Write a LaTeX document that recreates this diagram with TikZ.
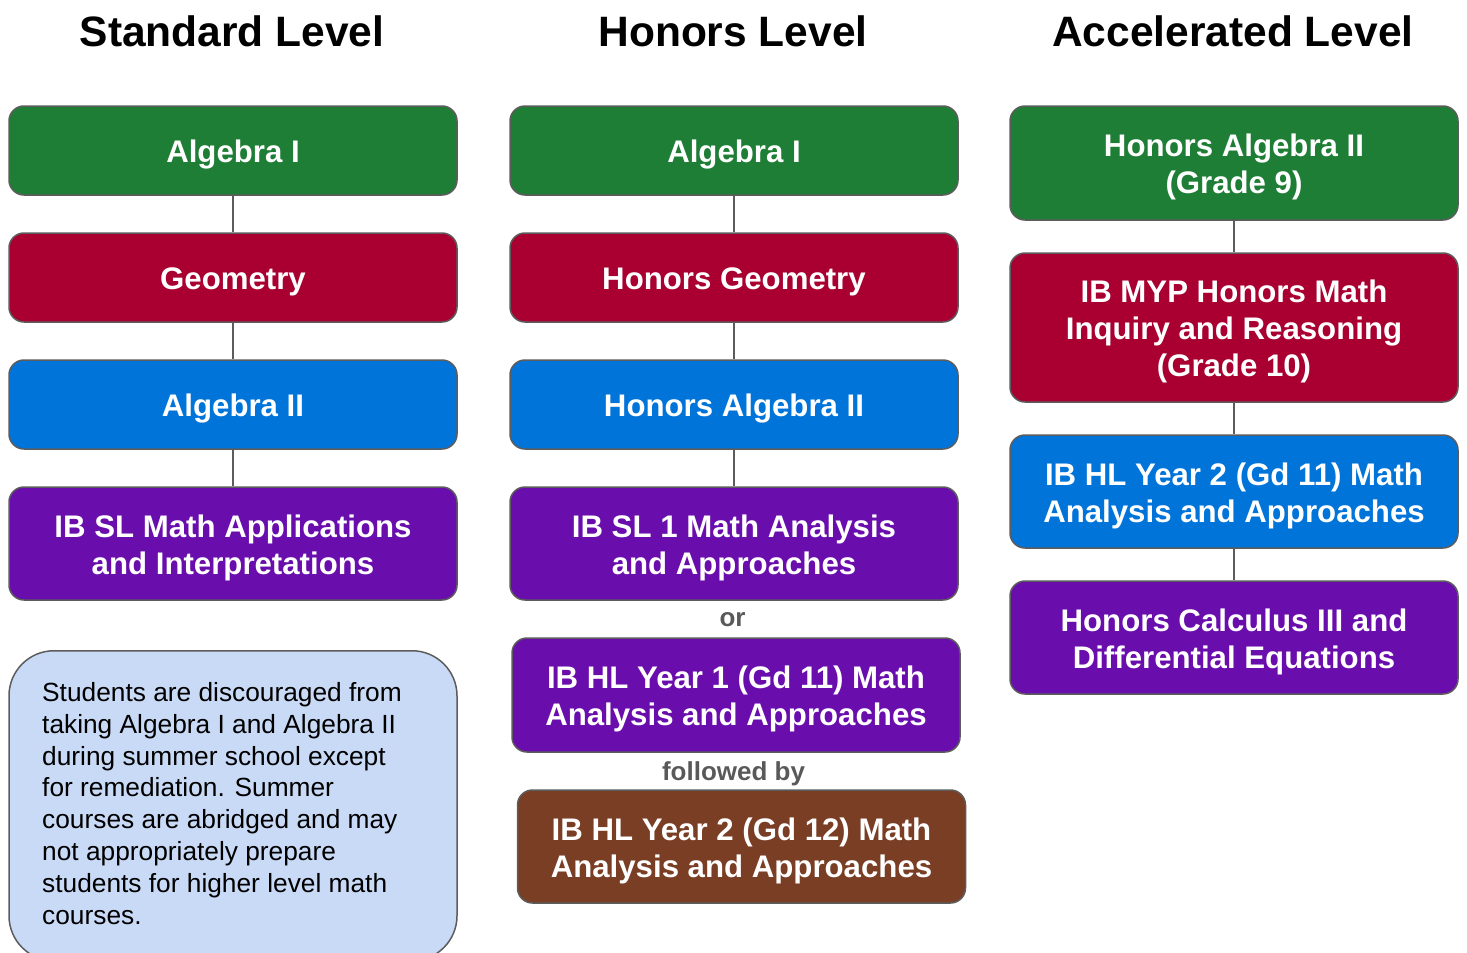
\documentclass[tikz,border=0pt]{standalone}
\usepackage{fontspec}
\setmainfont{Liberation Sans}
\definecolor{cgreen}{HTML}{1F7E35}
\definecolor{cred}{HTML}{A90031}
\definecolor{cblue}{HTML}{0074D9}
\definecolor{cpurple}{HTML}{6A0DAD}
\definecolor{cbrown}{HTML}{7A3E25}
\definecolor{cnote}{HTML}{C9DAF6}
\definecolor{cborder}{HTML}{5C5C5C}
\definecolor{cgreytext}{HTML}{595959}
\newcommand\hs{\rule{0pt}{1.0em}}
\newcommand\ds{\rule[-0.2em]{0pt}{0.2em}}
\tikzset{
  course/.style={draw=cborder, line width=1.5pt, rounded corners=15pt,
    minimum width=448pt, text=white, align=center, inner sep=0pt,
    font=\fontsize{31.2}{37}\selectfont\bfseries},
  title/.style={anchor=base, font=\fontsize{42.5}{48}\selectfont\bfseries},
  conn/.style={draw=cborder, line width=1.5pt},
  smalllabel/.style={anchor=base, text=cgreytext, inner sep=0pt,
    font=\fontsize{26}{30}\selectfont\bfseries}
}
\begin{document}
\begin{tikzpicture}[x=1pt,y=-1pt]
\useasboundingbox (0,0) rectangle (1467,953);
% titles
\node[title] (t1) at (232,46) {Standard Level};
\node[title] (t2) at (733,46) {Honors Level};
\node[title] (t3) at (1233,46) {Accelerated Level};
% column 1
\node[course, fill=cgreen, minimum height=89pt] (a1) at (233,150.5) {\hs Algebra I\ds};
\node[course, fill=cred, minimum height=89pt] (a2) at (233,277.5) {\hs Geometry\ds};
\node[course, fill=cblue, minimum height=89pt] (a3) at (233,404.5) {\hs Algebra II\ds};
\node[course, fill=cpurple, minimum height=113pt] (a4) at (233,543.5) {\hs IB SL Math Applications\\and Interpretations\ds};
\draw[conn] (a1.south) -- (a2.north);
\draw[conn] (a2.south) -- (a3.north);
\draw[conn] (a3.south) -- (a4.north);
% note
\node[draw=cborder, line width=1.5pt, fill=cnote, rounded corners=45pt,
  minimum width=448pt, minimum height=310pt, anchor=north, inner sep=0pt] (note) at (233,650) {};
\node[anchor=north west, inner sep=0pt, align=left,
  font=\fontsize{26.3}{31.9}\selectfont] (notetext) at (42,682) {Students are discouraged from\\taking Algebra I and Algebra II\\during summer school except\\for remediation. Summer\\courses are abridged and may\\not appropriately prepare\\students for higher level math\\courses.};
% column 2
\node[course, fill=cgreen, minimum height=89pt] (b1) at (734,150.5) {\hs Algebra I\ds};
\node[course, fill=cred, minimum height=89pt] (b2) at (734,277.5) {\hs Honors Geometry\ds};
\node[course, fill=cblue, minimum height=89pt] (b3) at (734,404.5) {\hs Honors Algebra II\ds};
\node[course, fill=cpurple, minimum height=113pt] (b4) at (734,543.5) {\hs IB SL 1 Math Analysis\\and Approaches\ds};
\draw[conn] (b1.south) -- (b2.north);
\draw[conn] (b2.south) -- (b3.north);
\draw[conn] (b3.south) -- (b4.north);
\node[smalllabel] (or) at (732.5,626.5) {or};
\node[course, fill=cpurple, minimum height=114pt] (b5) at (736,695) {\hs IB HL Year 1 (Gd 11) Math\\Analysis and Approaches\ds};
\node[smalllabel] (fb) at (733.5,780) {followed by};
\node[course, fill=cbrown, minimum height=113pt] (b6) at (741.5,846.5) {\hs IB HL Year 2 (Gd 12) Math\\Analysis and Approaches\ds};
% column 3
\node[course, fill=cgreen, minimum height=114pt] (c1) at (1234,163) {\hs Honors Algebra II\\(Grade 9)\ds};
\node[course, fill=cred, minimum height=149pt] (c2) at (1234,327.5) {\hs IB MYP Honors Math\\Inquiry and Reasoning\\(Grade 10)\ds};
\node[course, fill=cblue, minimum height=113pt] (c3) at (1234,491.5) {\hs IB HL Year 2 (Gd 11) Math\\Analysis and Approaches\ds};
\node[course, fill=cpurple, minimum height=113pt] (c4) at (1234,637.5) {\hs Honors Calculus III and\\Differential Equations\ds};
\draw[conn] (c1.south) -- (c2.north);
\draw[conn] (c2.south) -- (c3.north);
\draw[conn] (c3.south) -- (c4.north);
\end{tikzpicture}
\end{document}
